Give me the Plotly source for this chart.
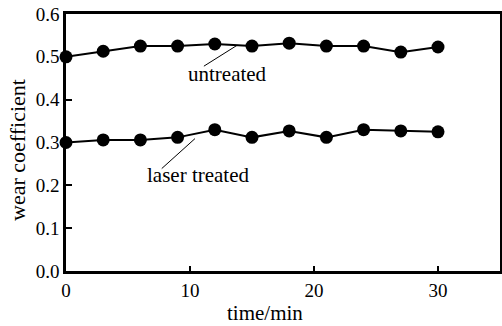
import plotly.graph_objects as go

time_min = [0, 3, 6, 9, 12, 15, 18, 21, 24, 27, 30]
untreated = [0.500, 0.513, 0.525, 0.525, 0.530, 0.525, 0.532, 0.525, 0.525, 0.511, 0.523]
laser_treated = [0.300, 0.306, 0.306, 0.312, 0.330, 0.312, 0.327, 0.312, 0.330, 0.327, 0.325]

x_ticks = [0, 10, 20, 30]
y_ticks = [0.0, 0.1, 0.2, 0.3, 0.4, 0.5, 0.6]

font_family = "Liberation Serif"

fig = go.Figure()
for name, vals in [("untreated", untreated), ("laser treated", laser_treated)]:
    fig.add_trace(go.Scatter(
        x=time_min, y=vals, mode="lines+markers", name=name,
        line=dict(color="black", width=2),
        marker=dict(color="black", size=13, symbol="circle"),
        cliponaxis=False, showlegend=False, hoverinfo="skip",
    ))

fig.update_layout(
    width=502, height=326,
    margin=dict(l=66, r=2, t=14, b=55),
    paper_bgcolor="white", plot_bgcolor="white",
    font=dict(family=font_family, color="black", size=19),
    xaxis=dict(
        range=[0, 35], tickvals=x_ticks, ticks="inside", ticklen=5, tickwidth=1.5,
        tickcolor="black", showline=True, linewidth=2.5, linecolor="black", mirror=True,
        showgrid=False, zeroline=False, automargin=False,
        tickfont=dict(family=font_family, size=19),
    ),
    yaxis=dict(
        range=[0, 0.6], tickvals=y_ticks, tickformat=".1f", ticks="inside", ticklen=6,
        tickwidth=1.5, tickcolor="black", showline=True, linewidth=2.5, linecolor="black",
        mirror=True, showgrid=False, zeroline=False, automargin=False,
        tickfont=dict(family=font_family, size=19),
    ),
    annotations=[
        dict(x=0.4585, y=-0.163, xref="paper", yref="paper", text="time/min",
             showarrow=False, font=dict(family=font_family, size=21),
             xanchor="center", yanchor="middle"),
        dict(x=-0.1106, y=0.471, xref="paper", yref="paper", text="wear coefficient",
             showarrow=False, textangle=-90, font=dict(family=font_family, size=22),
             xanchor="center", yanchor="middle"),
        dict(x=13.8, y=0.527, ax=11.0, ay=0.476, xref="x", yref="y", axref="x", ayref="y",
             text="", showarrow=True, arrowhead=0, arrowwidth=1, arrowcolor="black"),
        dict(x=13.0, y=0.461, xref="x", yref="y", text="untreated", showarrow=False,
             font=dict(family=font_family, size=21), yanchor="middle"),
        dict(x=10.4, y=0.309, ax=7.6, ay=0.236, xref="x", yref="y", axref="x", ayref="y",
             text="", showarrow=True, arrowhead=0, arrowwidth=1, arrowcolor="black"),
        dict(x=10.7, y=0.225, xref="x", yref="y", text="laser treated", showarrow=False,
             font=dict(family=font_family, size=21), yanchor="middle"),
    ],
)

fig.write_html("out.html", config={"displayModeBar": False},
               post_script="document.body.style.margin='0';document.body.style.padding='0';")
